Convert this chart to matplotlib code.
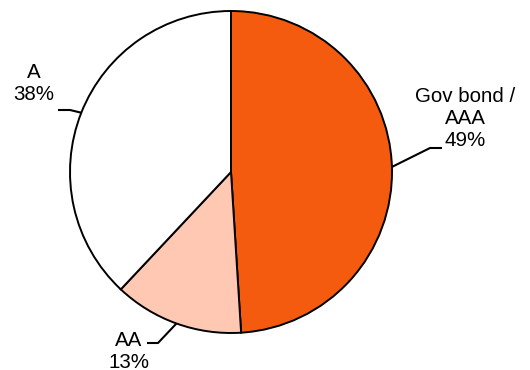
import matplotlib
matplotlib.use("Agg")
import matplotlib.pyplot as plt
import numpy as np

plt.rcParams['font.family'] = ['Liberation Sans', 'DejaVu Sans']

# data
labels = ['Gov bond /\nAAA', 'AA', 'A']
shares = [49, 13, 38]
colors = ['#F55B0E', '#FEC8B2', '#FFFFFF']

W, H = 530, 370
fig = plt.figure(figsize=(W / 100, H / 100), dpi=100)
ax = fig.add_axes([0, 0, 1, 1])

cx, cy, r = 231, H - 172, 161
wedges, _ = ax.pie(shares, colors=colors, startangle=90, counterclock=False,
                   center=(cx, cy), radius=r, frame=True,
                   wedgeprops=dict(edgecolor='black', linewidth=1.4))
ax.set_xlim(0, W)
ax.set_ylim(0, H)
ax.set_aspect('equal')
ax.axis('off')

# label layout: elbow point, end of horizontal, text anchor (pixels, y down)
layout = [
    dict(elbow=(430, 148), end=(442, 148), text=(465, 119), ha='center'),
    dict(elbow=(158, 343), end=(147, 343), text=(149, 351), ha='right'),
    dict(elbow=(70, 110), end=(58, 110), text=(54, 83), ha='right'),
]

for w, lab, s, lo in zip(wedges, labels, shares, layout):
    mid = np.deg2rad((w.theta1 + w.theta2) / 2)
    ex, ey = cx + r * np.cos(mid), cy + r * np.sin(mid)
    bx, by = lo['elbow'][0], H - lo['elbow'][1]
    hx, hy = lo['end'][0], H - lo['end'][1]
    ax.plot([ex, bx, hx], [ey, by, hy], color='black', lw=1.5,
            solid_capstyle='butt')
    tx, ty = lo['text'][0], H - lo['text'][1]
    ax.text(tx, ty, f'{lab}\n{s}%', ha=lo['ha'], va='center',
            multialignment='center', fontsize=14.8)

fig.savefig('out.png', dpi=100)
